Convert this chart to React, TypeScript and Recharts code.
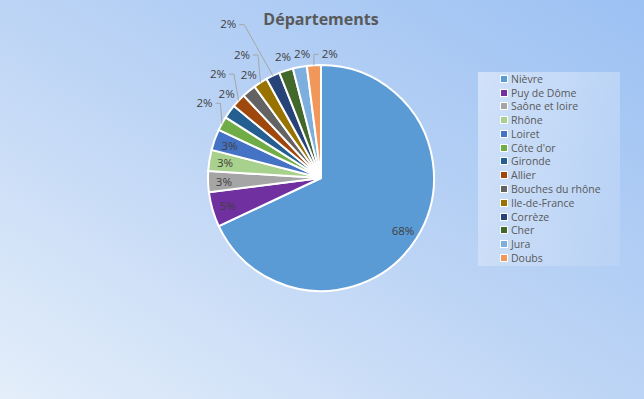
import React from 'react';
import { PieChart, Pie, Cell, Legend } from 'recharts';

const departements = [
  'Nièvre',
  'Puy de Dôme',
  'Saône et loire',
  'Rhône',
  'Loiret',
  "Côte d'or",
  'Gironde',
  'Allier',
  'Bouches du rhône',
  'Ile-de-France',
  'Corrèze',
  'Cher',
  'Jura',
  'Doubs',
];
const parts = [68, 5, 3, 3, 3, 2, 2, 2, 2, 2, 2, 2, 2, 2];
const couleurs = [
  '#5B9BD5',
  '#7030A0',
  '#A5A5A5',
  '#A9D18E',
  '#4472C4',
  '#70AD47',
  '#255E91',
  '#9E480E',
  '#636363',
  '#997300',
  '#264478',
  '#43682B',
  '#7CAFDD',
  '#F1975A',
];

const data = departements.map((name, i) => ({ name, value: parts[i] }));

// placement of outside labels: distance from centre and angle (clockwise from top)
const outside: Record<number, { d: number; a: number; leader?: boolean }> = {
  5: { d: 139, a: 303, leader: true },
  6: { d: 127, a: 312 },
  7: { d: 147, a: 315.5, leader: true },
  8: { d: 126, a: 325 },
  9: { d: 147, a: 327.5, leader: true },
  10: { d: 180, a: 329, leader: true },
  11: { d: 127, a: 342.6 },
  12: { d: 126, a: 351.4 },
  13: { d: 125, a: 364, leader: true },
};

const RAD = Math.PI / 180;
const labelColor = '#404040';
const font = '"Open Sans", "Noto Sans", sans-serif';

const renderLabel = (props: any) => {
  const { cx, cy, midAngle, outerRadius, index, percent } = props;
  const txt = `${Math.round(percent * 100)}%`;
  const place = outside[index];
  if (!place) {
    const r = outerRadius * 0.86;
    const x = cx + r * Math.cos(-midAngle * RAD);
    const y = cy + r * Math.sin(-midAngle * RAD);
    return (
      <text x={x} y={y} fill={labelColor} fontSize={11.5} fontFamily={font} textAnchor="middle" dominantBaseline="central">
        {txt}
      </text>
    );
  }
  const x = cx + place.d * Math.sin(place.a * RAD);
  const y = cy - place.d * Math.cos(place.a * RAD);
  const ex = cx + outerRadius * Math.cos(-midAngle * RAD);
  const ey = cy + outerRadius * Math.sin(-midAngle * RAD);
  let line = null;
  if (place.leader) {
    const right = place.a > 360;
    const hx = right ? x - 11 : x + 11;
    const kx = right ? ex : x + 16;
    line = (
      <polyline
        points={`${ex},${ey} ${kx},${y + 1} ${hx},${y + 1}`}
        fill="none"
        stroke="#a6a6a6"
        strokeWidth={1}
      />
    );
  }
  return (
    <g>
      {line}
      <text x={x} y={y} fill={labelColor} fontSize={11.5} fontFamily={font} textAnchor="middle" dominantBaseline="central">
        {txt}
      </text>
    </g>
  );
};

const renderLegend = () => (
  <div
    style={{
      width: 142,
      height: 194,
      boxSizing: 'border-box',
      paddingLeft: 22,
      paddingTop: 0,
      background: 'linear-gradient(to bottom right, rgba(255,255,255,0.45), rgba(255,255,255,0.08))',
    }}
  >
    {departements.map((name, i) => (
      <div
        key={name}
        style={{
          height: 13.77,
          display: 'flex',
          alignItems: 'center',
          fontSize: 10.5,
          fontFamily: font,
          color: '#595959',
          whiteSpace: 'nowrap',
        }}
      >
        <span
          style={{
            display: 'inline-block',
            width: 6,
            height: 6,
            background: couleurs[i],
            border: '1px solid #ffffff',
            marginRight: 3,
          }}
        />
        {name}
      </div>
    ))}
  </div>
);

export default function App() {
  return (
    <div
      style={{
        position: 'fixed',
        left: 0,
        top: 0,
        width: 644,
        height: 399,
        background: 'linear-gradient(to top right, #e4eefa 0%, #bcd4f5 50%, #9cc1f3 100%)',
        overflow: 'hidden',
      }}
    >
      <div
        style={{
          position: 'absolute',
          left: 0,
          width: 644,
          top: 8,
          textAlign: 'center',
          fontFamily: font,
          fontWeight: 700,
          fontSize: 16,
          color: '#595959',
        }}
      >
        <span style={{ position: 'relative', left: -1 }}>Départements</span>
      </div>
      <PieChart
        width={644}
        height={399}
        margin={{ top: 0, right: 0, bottom: 0, left: 0 }}
        style={{ position: 'absolute', left: 0, top: 0 }}
      >
        <Pie
          data={data}
          dataKey="value"
          nameKey="name"
          cx={321}
          cy={178}
          outerRadius={113}
          startAngle={90}
          endAngle={-270}
          stroke="#ffffff"
          strokeWidth={2}
          label={renderLabel}
          labelLine={false}
          isAnimationActive={false}
        >
          {data.map((d, i) => (
            <Cell key={d.name} fill={couleurs[i]} />
          ))}
        </Pie>
        <Legend
          content={renderLegend}
          layout="vertical"
          align="right"
          verticalAlign="top"
          wrapperStyle={{ left: 478, top: 72, width: 142, height: 194, right: 'auto', bottom: 'auto' }}
        />
      </PieChart>
    </div>
  );
}
